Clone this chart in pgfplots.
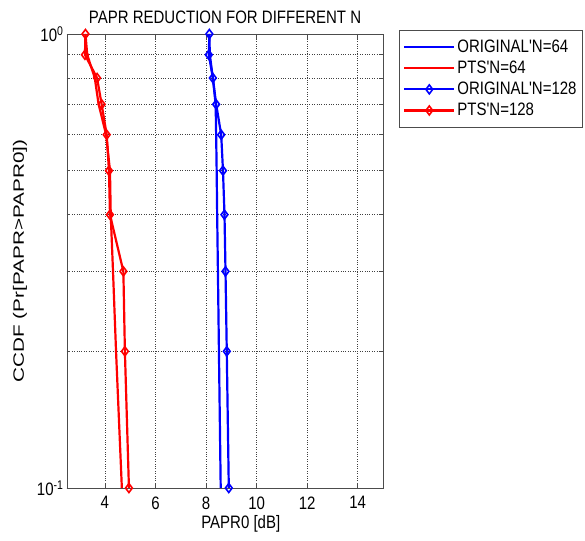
\documentclass[border=0pt]{standalone}
\usepackage{fontspec}
\setmainfont{Liberation Sans}
\usepackage{pgfplots}
\pgfplotsset{compat=1.18}
\usetikzlibrary{calc}

% text in the reference is a bit stretched vertically
\newcommand{\tall}[1]{\scalebox{1}[1.2]{#1}}

% probability levels of the CCDF curves
\pgfplotstableread{
x64o  x64p  x128o x128p p
8.13  3.23  8.13  3.23  1.0
8.15  3.30  8.11  3.21  0.9
8.27  3.60  8.27  3.69  0.8
8.38  3.75  8.40  3.87  0.7
8.40  4.05  8.60  4.07  0.6
8.42  4.20  8.67  4.16  0.5
8.44  4.23  8.73  4.20  0.4
8.47  4.32  8.77  4.73  0.3
8.51  4.44  8.82  4.79  0.2
8.58  4.67  8.90  4.95  0.1
}\ccdf

\begin{document}
\begin{tikzpicture}
\begin{axis}[
  name=ax, at={(0,0)}, anchor=south west,
  scale only axis,
  width=316pt, height=454pt,
  ymode=log,
  xmin=2.5, xmax=15,
  ymin=0.1, ymax=1,
  xtick={4,6,8,10,12,14},
  xticklabels={\tall{4},\tall{6},\tall{8},\tall{10},\tall{12},\tall{14}},
  ytick={0.1,1},
  yticklabels={\tall{10\textsuperscript{-1}},\tall{10\textsuperscript{0}}},
  tick label style={font=\fontsize{15}{18}\selectfont},
  xticklabel style={yshift=-5pt},
  label style={font=\fontsize{15}{18}\selectfont},
  title style={font=\fontsize{15}{18}\selectfont, yshift=1pt},
  title={\tall{PAPR REDUCTION FOR DIFFERENT N}},
  xlabel={\tall{PAPR0 [dB]}},
  ylabel={\scalebox{1.38}[1]{CCDF (Pr[PAPR>PAPR0])}},
  xlabel style={at={(ticklabel cs:0.55)}, anchor=north, yshift=1pt},
  ylabel style={yshift=3pt},
  grid=both,
  major grid style={black!75, dotted, line width=0.7pt},
  minor grid style={black!75, dotted, line width=0.7pt},
  axis line style={black!70, line width=0.8pt},
  tick style={black!70, line width=0.6pt},
  major tick length=5pt, minor tick length=3pt,
  legend cell align=left,
  legend style={at={(1.0506,1.0088)}, anchor=north west,
    font=\fontsize{15}{18}\selectfont, draw=black!70,
    row sep=3pt, inner xsep=4pt, inner ysep=8pt},
  legend image code/.code={
    \draw[mark repeat=2, mark phase=2, #1]
      plot coordinates {(0pt,0pt) (25pt,0pt) (50pt,0pt)};},
  every axis plot/.append style={line width=2.2pt},
]
\addplot[blue, no markers] table[x=x64o, y=p] {\ccdf};
\addlegendentry{\tall{ORIGINAL\textquotesingle N=64}}
\addplot[red, no markers] table[x=x64p, y=p] {\ccdf};
\addlegendentry{\tall{PTS\textquotesingle N=64}}
\addplot[blue, mark=diamond, mark size=4.5pt, mark options={line width=1.6pt, fill=white}]
  table[x=x128o, y=p] {\ccdf};
\addlegendentry{\tall{ORIGINAL\textquotesingle N=128}}
\addplot[red, mark=diamond, mark size=4.5pt, mark options={line width=1.6pt, fill=white}]
  table[x=x128p, y=p] {\ccdf};
\addlegendentry{\tall{PTS\textquotesingle N=128}}
\end{axis}
\pgfresetboundingbox
\path[use as bounding box] ($(ax.south west)+(-67pt,-52pt)$) rectangle ($(ax.south west)+(518pt,488pt)$);
\end{tikzpicture}
\end{document}
